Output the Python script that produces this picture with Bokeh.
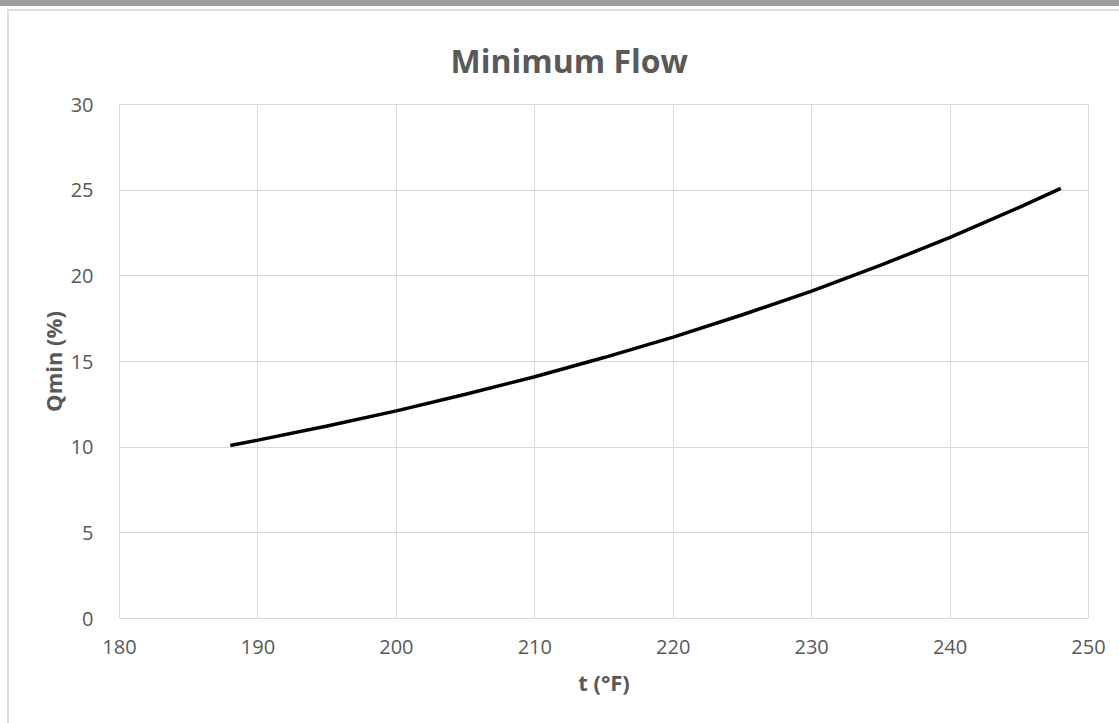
from bokeh.plotting import figure
from bokeh.models import Range1d, FixedTicker, Div
from bokeh.layouts import column, row
from bokeh.embed import file_html
from bokeh.resources import INLINE

# data
t_values = [188, 190, 195, 200, 205, 210, 215, 220, 225, 230, 235, 240, 245, 248]
q_values = [10.1, 10.41, 11.24, 12.12, 13.09, 14.11, 15.23, 16.42, 17.73, 19.11, 20.62, 22.24, 24.0, 25.1]
x_ticks = [180, 190, 200, 210, 220, 230, 240, 250]
y_ticks = [0, 5, 10, 15, 20, 25, 30]

TXT = "#595959"
GRID = "#d9d9d9"
FONT = "Open Sans"

PW, PH = 1110, 712
p = figure(width=PW, height=PH, output_backend="svg", toolbar_location=None,
           x_range=Range1d(180, 250), y_range=Range1d(0, 30),
           min_border_left=110, min_border_right=31, min_border_top=93, min_border_bottom=105,
           title="Minimum Flow", margin=0)
p.background_fill_color = "white"
p.border_fill_color = "white"
p.outline_line_color = GRID
p.outline_line_width = 1

p.title.text_font = FONT
p.title.text_font_size = "32px"
p.title.text_font_style = "bold"
p.title.text_color = TXT
p.title.align = "left"
p.title.offset = 331
p.title.standoff = 46

p.line(t_values, q_values, line_color="black", line_width=3.5)

p.xaxis.ticker = FixedTicker(ticks=x_ticks)
p.yaxis.ticker = FixedTicker(ticks=y_ticks)
for ax in (p.xaxis[0], p.yaxis[0]):
    ax.axis_line_color = None
    ax.major_tick_line_color = None
    ax.minor_tick_line_color = None
    ax.major_label_text_font = FONT
    ax.major_label_text_font_size = "20px"
    ax.major_label_text_color = TXT
    ax.axis_label_text_font = FONT
    ax.axis_label_text_font_size = "22px"
    ax.axis_label_text_font_style = "bold"
    ax.axis_label_text_color = TXT
p.xaxis.axis_label = "t (°F)"
p.yaxis.axis_label = "Qmin (%)"
p.xaxis.major_label_standoff = 15
p.yaxis.major_label_standoff = 20
p.xaxis.axis_label_standoff = 10
p.yaxis.axis_label_standoff = 0

p.xgrid.grid_line_color = GRID
p.ygrid.grid_line_color = GRID
p.xgrid.grid_line_width = 1
p.ygrid.grid_line_width = 1


def block(w, h, color):
    return Div(text="", width=w, height=h, margin=0,
               styles={"background-color": color})


layout = column(
    block(1119, 6, "#9d9ea2"),
    block(1119, 3, "white"),
    row(
        block(7, PH + 2, "white"),
        column(
            block(PW + 2, 2, "#dcdcdc"),
            row(block(2, PH, "#dcdcdc"), p, spacing=0, margin=0),
            spacing=0, margin=0,
        ),
        spacing=0, margin=0,
    ),
    spacing=0, margin=0,
)

open("out.html", "w").write(file_html(layout, INLINE))
